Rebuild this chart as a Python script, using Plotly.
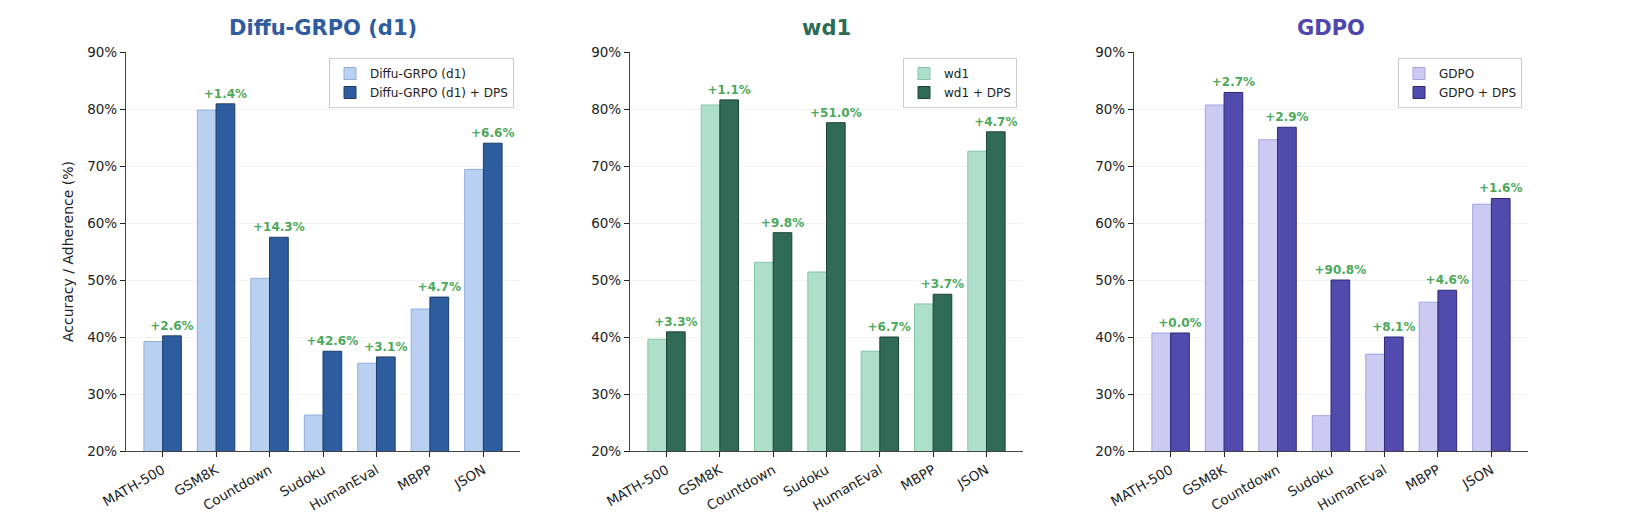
import plotly.graph_objects as go
from plotly.subplots import make_subplots

# benchmark names on the x axis
categories = ["MATH-500", "GSM8K", "Countdown", "Sudoku", "HumanEval", "MBPP", "JSON"]

# Diffu-GRPO (d1)
d1_base = [39.2, 79.8, 50.3, 26.3, 35.4, 44.9, 69.4]
d1_dps = [40.2, 80.9, 57.5, 37.5, 36.5, 47.0, 74.0]
d1_gain = ["+2.6%", "+1.4%", "+14.3%", "+42.6%", "+3.1%", "+4.7%", "+6.6%"]

# wd1
wd1_base = [39.6, 80.7, 53.1, 51.4, 37.5, 45.8, 72.6]
wd1_dps = [40.9, 81.6, 58.3, 77.6, 40.0, 47.5, 76.0]
wd1_gain = ["+3.3%", "+1.1%", "+9.8%", "+51.0%", "+6.7%", "+3.7%", "+4.7%"]

# GDPO
gdpo_base = [40.7, 80.7, 74.6, 26.2, 37.0, 46.1, 63.3]
gdpo_dps = [40.7, 82.9, 76.8, 50.0, 40.0, 48.2, 64.3]
gdpo_gain = ["+0.0%", "+2.7%", "+2.9%", "+90.8%", "+8.1%", "+4.6%", "+1.6%"]

FONT = "DejaVu Sans"
GAIN_COLOR = "#4CA85A"

panels = [
    dict(name="Diffu-GRPO (d1)", base=d1_base, dps=d1_dps, gain=d1_gain,
         title_color="#2E5C9E", light="#BAD0F0", light_edge="#8FAEDC",
         dark="#2D5D9F", dark_edge="#1C3C6C"),
    dict(name="wd1", base=wd1_base, dps=wd1_dps, gain=wd1_gain,
         title_color="#2E6B55", light="#AEDFCB", light_edge="#82C4A9",
         dark="#2F6B56", dark_edge="#1D4436"),
    dict(name="GDPO", base=gdpo_base, dps=gdpo_dps, gain=gdpo_gain,
         title_color="#4F46B0", light="#CCC9F2", light_edge="#A7A2E0",
         dark="#514BAE", dark_edge="#2E2977"),
]

W, H = 1638, 530
# panel edges in px (the page body adds ~8px offset, taken off here)
x_domains = [(118, 512), (622, 1015), (1126, 1520)]

fig = make_subplots(rows=1, cols=3)

for i, p in enumerate(panels):
    col = i + 1
    leg = "legend" if i == 0 else f"legend{i + 1}"
    fig.add_trace(go.Bar(x=categories, y=p["base"], name=p["name"],
                         marker=dict(color=p["light"], line=dict(color=p["light_edge"], width=1)),
                         legend=leg), row=1, col=col)
    fig.add_trace(go.Bar(x=categories, y=p["dps"], name=p["name"] + " + DPS",
                         marker=dict(color=p["dark"], line=dict(color=p["dark_edge"], width=1)),
                         text=p["gain"], textposition="outside", constraintext="none",
                         cliponaxis=False,
                         textfont=dict(family=FONT, size=12, color=GAIN_COLOR, weight="bold"),
                         legend=leg), row=1, col=col)

    x0, x1 = x_domains[i]
    xa = "xaxis" if i == 0 else f"xaxis{col}"
    ya = "yaxis" if i == 0 else f"yaxis{col}"
    fig.layout[xa].update(domain=[x0 / W, x1 / W], range=[-0.685, 6.685],
                          showline=True, linecolor="#444", linewidth=1.2,
                          ticks="outside", ticklen=5, tickcolor="#222",
                          tickangle=-30, showgrid=False, automargin=False,
                          tickfont=dict(family=FONT, size=13.5, color="#222"))
    fig.layout[ya].update(domain=[0, 1], range=[20, 90], dtick=10, ticksuffix="%",
                          showline=True, linecolor="#444", linewidth=1.2,
                          ticks="outside", ticklen=5, tickcolor="#222",
                          showgrid=True, gridcolor="#F2F2F2", gridwidth=1,
                          zeroline=False, automargin=False,
                          tickfont=dict(family=FONT, size=13.5, color="#222"))

    legend_cfg = dict(x=(x1 - 6) / W, xanchor="right", y=0.985, yanchor="top",
                      bgcolor="rgba(255,255,255,0.9)", bordercolor="#CCCCCC", borderwidth=1,
                      font=dict(family=FONT, size=12, color="#222"), tracegroupgap=0,
                      itemwidth=30)
    fig.layout[leg] = legend_cfg

    fig.add_annotation(text=p["name"], x=(x0 + x1) / 2 / W, y=1.06, xref="paper", yref="paper",
                       xanchor="center", yanchor="middle", showarrow=False,
                       font=dict(family=FONT, size=21, color=p["title_color"], weight="bold"))

fig.update_yaxes(title=dict(text="Accuracy / Adherence (%)", standoff=10,
                            font=dict(family=FONT, size=14, color="#222")), row=1, col=1)

fig.update_layout(width=W, height=H, barmode="group", bargap=0.3, bargroupgap=0,
                  plot_bgcolor="white", paper_bgcolor="white",
                  margin=dict(l=0, r=0, t=44, b=87),
                  font=dict(family=FONT, color="#222"))

fig.write_html("out.html")
